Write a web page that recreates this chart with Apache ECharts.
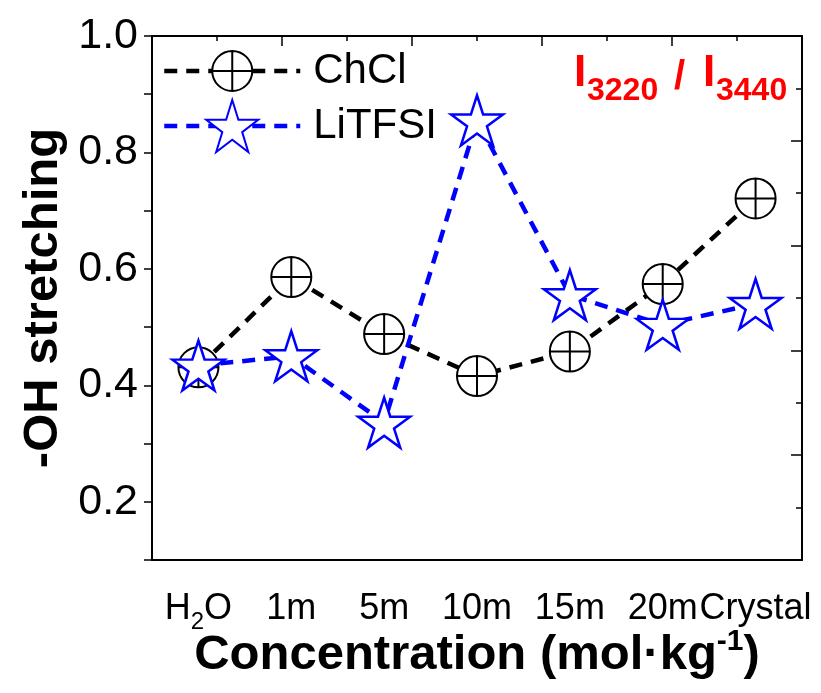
<!DOCTYPE html>
<html>
<head>
<meta charset="utf-8">
<script src="https://cdn.jsdelivr.net/npm/echarts@6/dist/echarts.min.js"></script>
<style>
  html, body { margin: 0; padding: 0; background: #fff; }
  #chart { width: 821px; height: 693px; }
</style>
</head>
<body>
<div id="chart"></div>
<script>
// Concentration categories along the x axis
const categories = ['H2O', '1m', '5m', '10m', '15m', '20m', 'Crystal'];
// I3220 / I3440 intensity ratio of the -OH stretching band
const chclValues = [0.431, 0.586, 0.488, 0.416, 0.458, 0.574, 0.721];
const litfsiValues = [0.434, 0.450, 0.336, 0.855, 0.555, 0.504, 0.540];
// Left axis tick labels
const yTickLabels = ['0.2', '0.4', '0.6', '0.8', '1.0'];

const FONT = '"Liberation Sans", Arial, Helvetica, sans-serif';

// Five-pointed star outline in a 100x100 box
function starPath() {
  const pts = [];
  for (let i = 0; i < 10; i++) {
    const r = i % 2 === 0 ? 50 : 19.1;
    const a = -Math.PI / 2 + i * Math.PI / 5;
    pts.push((50 + r * Math.cos(a)).toFixed(2) + ',' + (50 + r * Math.sin(a)).toFixed(2));
  }
  return 'path://M' + pts.join('L') + 'Z';
}
// Crossed circle (⊕) drawn smaller inside a padded 100x100 box
function crossCirclePath() {
  const c = 50, r = 38.5;
  return 'path://M0,0M100,100' +
    'M' + c + ',' + (c - r) +
    'A' + r + ',' + r + ',0,1,1,' + c + ',' + (c + r) +
    'A' + r + ',' + r + ',0,1,1,' + c + ',' + (c - r) + 'Z' +
    'M' + c + ',' + (c - r) + 'L' + c + ',' + (c + r) +
    'M' + (c - r) + ',' + c + 'L' + (c + r) + ',' + c;
}

const chart = echarts.init(document.getElementById('chart'), null, { renderer: 'canvas' });

const axisColor = '#000';
const dash = [13, 9];
const option = {
  animation: false,
  backgroundColor: '#fff',
  grid: { left: 152, right: 19, top: 36, bottom: 133, containLabel: false, outerBoundsMode: 'none' },
  legend: {
    orient: 'vertical',
    left: 157,
    top: 39,
    itemWidth: 136,
    itemHeight: 65,
    itemGap: 1,
    lineStyle: { width: 4.5, type: dash },
    textStyle: { fontFamily: FONT, fontSize: 42, color: '#000', padding: [0, 0, 0, 8] },
    data: ['ChCl', 'LiTFSI']
  },
  xAxis: [
    {
      type: 'category',
      data: categories,
      position: 'bottom',
      boundaryGap: true,
      axisLine: { lineStyle: { color: axisColor, width: 2 } },
      axisTick: { alignWithLabel: true, length: 9, lineStyle: { color: axisColor, width: 1.5 } },
      axisLabel: {
        interval: 0,
        margin: 24,
        color: '#000',
        fontFamily: FONT,
        formatter: function (v) {
          if (v === 'H2O') return '{n|H}{s|2}{n|O}';
          return '{n|' + v + '}';
        },
        rich: {
          n: { fontFamily: FONT, fontSize: 36, lineHeight: 50, color: '#000' },
          s: { fontFamily: FONT, fontSize: 24, lineHeight: 24, padding: [26, 0, 0, 0], color: '#000' }
        }
      },
      splitLine: { show: false },
      name: 'Concentration (mol·kg{sup|-1})',
      nameLocation: 'middle',
      nameGap: 71,
      nameMoveOverlap: false,
      nameTextStyle: {
        fontFamily: FONT, fontSize: 49, fontWeight: 'bold', color: '#000',
        rich: {
          sup: { fontFamily: FONT, fontSize: 30, fontWeight: 'bold', lineHeight: 30, padding: [0, 0, 28, 0], color: '#000' }
        }
      }
    },
    {
      // boundary ticks between categories
      type: 'category',
      data: categories,
      position: 'bottom',
      boundaryGap: true,
      axisLine: { show: false },
      axisTick: { length: 4, lineStyle: { color: axisColor, width: 1.5 } },
      axisLabel: { show: false },
      splitLine: { show: false }
    },
    {
      // top frame
      type: 'value',
      position: 'top',
      min: 0, max: 10, interval: 2,
      axisLine: { show: true, lineStyle: { color: axisColor, width: 2 } },
      axisTick: { show: true, inside: true, length: 10, lineStyle: { color: axisColor, width: 1.5 } },
      minorTick: { show: true, splitNumber: 2, length: 5, lineStyle: { color: axisColor, width: 1.5 } },
      axisLabel: { show: false },
      splitLine: { show: false }
    }
  ],
  yAxis: [
    {
      type: 'value',
      position: 'left',
      min: 0.1, max: 1.0, interval: 0.1,
      axisLine: { show: true, lineStyle: { color: axisColor, width: 2 } },
      axisTick: { show: true, length: 8, lineStyle: { color: axisColor, width: 1.5 } },
      axisLabel: {
        margin: 14,
        color: '#000',
        fontFamily: FONT,
        fontSize: 43,
        formatter: function (v) {
          const s = (Math.round(v * 10) / 10).toFixed(1);
          return yTickLabels.indexOf(s) >= 0 ? s : '';
        }
      },
      splitLine: { show: false },
      name: '-OH stretching',
      nameLocation: 'middle',
      nameGap: 84,
      nameMoveOverlap: false,
      nameRotate: 90,
      nameTextStyle: { fontFamily: FONT, fontSize: 49, fontWeight: 'bold', color: '#000' }
    },
    {
      // right frame
      type: 'value',
      position: 'right',
      min: 0, max: 10, interval: 2,
      axisLine: { show: true, lineStyle: { color: axisColor, width: 2 } },
      axisTick: { show: true, inside: true, length: 11, lineStyle: { color: axisColor, width: 1.5 } },
      minorTick: { show: true, splitNumber: 2, length: 6, lineStyle: { color: axisColor, width: 1.5 } },
      axisLabel: { show: false },
      splitLine: { show: false }
    }
  ],
  series: [
    {
      name: 'ChCl',
      type: 'line',
      xAxisIndex: 0,
      yAxisIndex: 0,
      data: chclValues,
      symbol: crossCirclePath(),
      symbolSize: 52,
      itemStyle: { color: '#fff', borderColor: '#000', borderWidth: 2 },
      lineStyle: { color: '#000', width: 4.5, type: dash },
      emphasis: { disabled: true },
      z: 3
    },
    {
      name: 'LiTFSI',
      type: 'line',
      xAxisIndex: 0,
      yAxisIndex: 0,
      data: litfsiValues,
      symbol: starPath(),
      symbolSize: [52, 50],
      itemStyle: { color: '#fff', borderColor: '#0000ff', borderWidth: 2.5 },
      lineStyle: { color: '#0000ff', width: 4.5, type: dash },
      emphasis: { disabled: true },
      z: 4
    }
  ],
  graphic: [
    { type: 'text', left: 574, top: 52, style: { text: 'I', font: 'bold 44px ' + FONT, fill: '#ff0000' } },
    { type: 'text', left: 587, top: 75, style: { text: '3220', font: 'bold 32px ' + FONT, fill: '#ff0000' } },
    { type: 'text', left: 674, top: 58, style: { text: '/', font: 'bold 40px ' + FONT, fill: '#ff0000' } },
    { type: 'text', left: 703, top: 52, style: { text: 'I', font: 'bold 44px ' + FONT, fill: '#ff0000' } },
    { type: 'text', left: 716, top: 75, style: { text: '3440', font: 'bold 32px ' + FONT, fill: '#ff0000' } }
  ]
};

chart.setOption(option);
</script>
</body>
</html>
